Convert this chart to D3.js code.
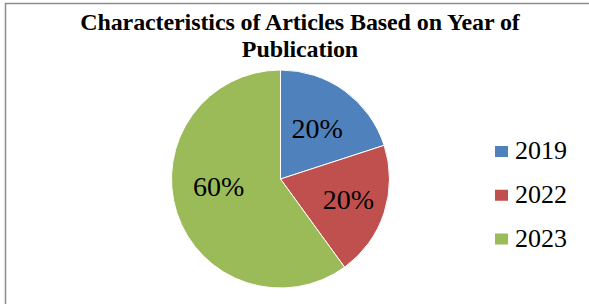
<!DOCTYPE html>
<html>
<head>
<meta charset="utf-8">
<script src="https://cdn.jsdelivr.net/npm/d3@7"></script>
<style>
  html, body { margin: 0; padding: 0; background: #fff; }
  svg { display: block; }
</style>
</head>
<body>
<svg id="chart" width="589" height="304"></svg>
<script>
// data
const years = ['2019', '2022', '2023'];
const shares = [20, 20, 60];
const colors = ['#4F81BD', '#C0504D', '#9BBB59'];
const titleLines = ['Characteristics of Articles Based on Year of', 'Publication'];

const svg = d3.select('#chart');
const W = 589, H = 304;

// outer frame (only top and left edges are visible in the crop)
svg.append('path')
    .attr('d', `M5.5,${H} L5.5,3.5 L${W},3.5`)
    .attr('fill', 'none')
    .attr('stroke', '#8c8c8c')
    .attr('stroke-width', 1.5);

// --- title ---
svg.append('g').selectAll('text')
    .data(titleLines)
    .enter().append('text')
    .attr('x', 300)
    .attr('y', (d, i) => 30 + i * 27)
    .attr('text-anchor', 'middle')
    .attr('font-family', '"Liberation Serif", "Times New Roman", serif')
    .attr('font-weight', 'bold')
    .attr('font-size', 24)
    .attr('letter-spacing', -0.1)
    .attr('fill', '#000')
    .text(d => d);

// --- pie ---
const cx = 280.5, cy = 179, R = 109;
const pie = d3.pie().sort(null).value(d => d);
const arcs = pie(shares);
const arc = d3.arc().innerRadius(0).outerRadius(R);
const labelArc = d3.arc().innerRadius(64).outerRadius(64);

const g = svg.append('g').attr('transform', `translate(${cx},${cy})`);

g.selectAll('path')
    .data(arcs)
    .enter().append('path')
    .attr('d', arc)
    .attr('fill', (d, i) => colors[i])
    .attr('stroke', '#fff')
    .attr('stroke-width', 1);

// Excel "best fit" nudges for the labels
const labelNudge = [[-1, 2], [7, 1], [-1, -12]];

g.selectAll('text')
    .data(arcs)
    .enter().append('text')
    .attr('x', (d, i) => labelArc.centroid(d)[0] + labelNudge[i][0])
    .attr('y', (d, i) => labelArc.centroid(d)[1] + labelNudge[i][1])
    .attr('dy', '0.33em')
    .attr('text-anchor', 'middle')
    .attr('font-family', '"Liberation Serif", "Times New Roman", serif')
    .attr('font-size', 28)
    .attr('fill', '#000')
    .text(d => d.data + '%');

// --- legend ---
const legendY = d3.scalePoint().domain(years).range([159, 246.5]);

const lg = svg.append('g').selectAll('g')
    .data(years)
    .enter().append('g')
    .attr('transform', d => `translate(495,${legendY(d)})`);

lg.append('rect')
    .attr('x', 0)
    .attr('y', -13)
    .attr('width', 13)
    .attr('height', 11)
    .attr('fill', (d, i) => colors[i]);

lg.append('text')
    .attr('x', 20)
    .attr('y', 0)
    .attr('font-family', '"Liberation Serif", "Times New Roman", serif')
    .attr('font-size', 26)
    .attr('fill', '#000')
    .text(d => d);
</script>
</body>
</html>
